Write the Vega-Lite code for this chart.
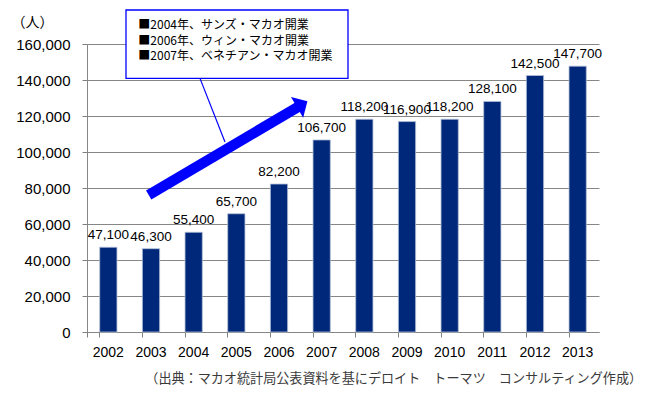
{
  "$schema": "https://vega.github.io/schema/vega-lite/v6.json",
  "width": 512,
  "height": 288,
  "autosize": {"type": "none"},
  "padding": {"left": 87, "top": 44, "right": 47, "bottom": 64},
  "background": "white",
  "config": {
    "view": {"stroke": null},
    "font": "Liberation Sans",
    "axisY": {"titleAngle": 0, "titleX": -55, "titleY": -22, "titleAlign": "center", "titleBaseline": "middle", "titleFont": "Noto Sans CJK JP", "titleFontSize": 14, "titleFontWeight": "normal", "titleColor": "#000000", "labelFontSize": 15, "labelFont": "Liberation Sans", "labelColor": "#000000", "labelPadding": 12, "tickSize": 5, "tickColor": "#7F7F7F", "domainColor": "#868686", "gridColor": "#868686", "grid": true, "labelOverlap": false}
  },
  "layer": [
    {
      "data": {"values": [
        {"year": "2002", "visitors": 47100},
        {"year": "2003", "visitors": 46300},
        {"year": "2004", "visitors": 55400},
        {"year": "2005", "visitors": 65700},
        {"year": "2006", "visitors": 82200},
        {"year": "2007", "visitors": 106700},
        {"year": "2008", "visitors": 118200},
        {"year": "2009", "visitors": 116900},
        {"year": "2010", "visitors": 118200},
        {"year": "2011", "visitors": 128100},
        {"year": "2012", "visitors": 142500},
        {"year": "2013", "visitors": 147700}
      ]},
      "layer": [
        {
          "mark": {"type": "bar", "color": "#00287A", "stroke": "#B4C0D8", "strokeWidth": 0.8},
          "encoding": {
            "x": {
              "field": "year", "type": "ordinal",
              "scale": {"paddingInner": 0.595, "paddingOuter": 0.2975},
              "axis": {"title": null, "orient": "bottom", "labelAngle": 0, "labelFontSize": 14, "labelFont": "Liberation Sans", "labelColor": "#000000", "ticks": true, "bandPosition": 0, "tickExtra": true, "tickColor": "#7F7F7F", "tickWidth": 1, "tickSize": 5, "labelPadding": 8, "domainColor": "#868686", "grid": false}
            },
            "y": {
              "field": "visitors", "type": "quantitative",
              "scale": {"domain": [0, 160000], "nice": false},
              "axis": {"title": "（人）", "values": [0, 20000, 40000, 60000, 80000, 100000, 120000, 140000, 160000], "format": ",.0f"}
            }
          }
        },
        {
          "mark": {"type": "text", "dy": -8, "baseline": "alphabetic", "fontSize": 13.5, "font": "Liberation Sans", "color": "#000000"},
          "encoding": {
            "x": {"field": "year", "type": "ordinal"},
            "y": {"field": "visitors", "type": "quantitative", "axis": {"title": "（人）", "values": [0, 20000, 40000, 60000, 80000, 100000, 120000, 140000, 160000], "format": ",.0f"}},
            "text": {"field": "visitors", "type": "quantitative", "format": ","}
          }
        }
      ]
    },
    {
      "layer": [
        {
          "data": {"values": [{"ax": 2.648, "ay": 140900, "ax2": 3.234, "ay2": 105600}]},
          "mark": {"type": "rule", "color": "#0000FF", "strokeWidth": 1.2},
          "encoding": {
            "x": {"field": "ax", "type": "quantitative", "scale": {"domain": [0, 12], "nice": false, "zero": false}, "axis": null},
            "y": {"field": "ay", "type": "quantitative", "scale": {"domain": [0, 160000], "nice": false}, "axis": {"title": "（人）", "values": [0, 20000, 40000, 60000, 80000, 100000, 120000, 140000, 160000], "format": ",.0f"}},
            "x2": {"field": "ax2"},
            "y2": {"field": "ay2"}
          }
        },
        {
          "data": {"values": [{"ax": 1.446, "ay": 76100, "ax2": 4.945, "ay2": 125000}]},
          "mark": {"type": "rule", "color": "#0000FF", "strokeWidth": 10.5, "strokeCap": "butt"},
          "encoding": {
            "x": {"field": "ax", "type": "quantitative", "axis": null},
            "y": {"field": "ay", "type": "quantitative", "axis": {"title": "（人）", "values": [0, 20000, 40000, 60000, 80000, 100000, 120000, 140000, 160000], "format": ",.0f"}},
            "x2": {"field": "ax2"},
            "y2": {"field": "ay2"}
          }
        },
        {
          "data": {"values": [{"ax": 5.166, "ay": 128200}]},
          "mark": {"type": "point", "shape": "M-1,1L0,0L1,1Z", "size": 576, "angle": 59.5, "filled": true, "color": "#0000FF", "opacity": 1, "strokeWidth": 0},
          "encoding": {
            "x": {"field": "ax", "type": "quantitative", "axis": null},
            "y": {"field": "ay", "type": "quantitative", "axis": {"title": "（人）", "values": [0, 20000, 40000, 60000, 80000, 100000, 120000, 140000, 160000], "format": ",.0f"}}
          }
        },
        {
          "data": {"values": [{"ax": 0.914, "ay": 178900, "ax2": 6.117, "ay2": 140900}]},
          "mark": {"type": "rect", "fill": "#FFFFFF", "stroke": "#0000FF", "strokeWidth": 1.3},
          "encoding": {
            "x": {"field": "ax", "type": "quantitative", "axis": null},
            "y": {"field": "ay", "type": "quantitative", "axis": {"title": "（人）", "values": [0, 20000, 40000, 60000, 80000, 100000, 120000, 140000, 160000], "format": ",.0f"}},
            "x2": {"field": "ax2"},
            "y2": {"field": "ay2"}
          }
        },
        {
          "data": {"values": [
            {"ax": 1.203, "ay": 170800, "note": "■2004年、サンズ・マカオ開業"},
            {"ax": 1.203, "ay": 161700, "note": "■2006年、ウィン・マカオ開業"},
            {"ax": 1.203, "ay": 153100, "note": "■2007年、ベネチアン・マカオ開業"}
          ]},
          "mark": {"type": "text", "align": "left", "baseline": "middle", "font": "Noto Sans CJK JP", "fontSize": 12, "color": "#000000"},
          "encoding": {
            "x": {"field": "ax", "type": "quantitative", "axis": null},
            "y": {"field": "ay", "type": "quantitative", "axis": {"title": "（人）", "values": [0, 20000, 40000, 60000, 80000, 100000, 120000, 140000, 160000], "format": ",.0f"}},
            "text": {"field": "note", "type": "nominal"}
          }
        },
        {
          "data": {"values": [{"ax": 13.01, "ay": -26100, "note": "（出典：マカオ統計局公表資料を基にデロイト　トーマツ　コンサルティング作成）"}]},
          "mark": {"type": "text", "align": "right", "baseline": "middle", "font": "Noto Sans CJK JP", "fontSize": 13.1, "color": "#3A3A3A"},
          "encoding": {
            "x": {"field": "ax", "type": "quantitative", "axis": null},
            "y": {"field": "ay", "type": "quantitative", "axis": {"title": "（人）", "values": [0, 20000, 40000, 60000, 80000, 100000, 120000, 140000, 160000], "format": ",.0f"}},
            "text": {"field": "note", "type": "nominal"}
          }
        }
      ]
    }
  ],
  "resolve": {"scale": {"x": "independent"}, "axis": {"x": "independent"}}
}
